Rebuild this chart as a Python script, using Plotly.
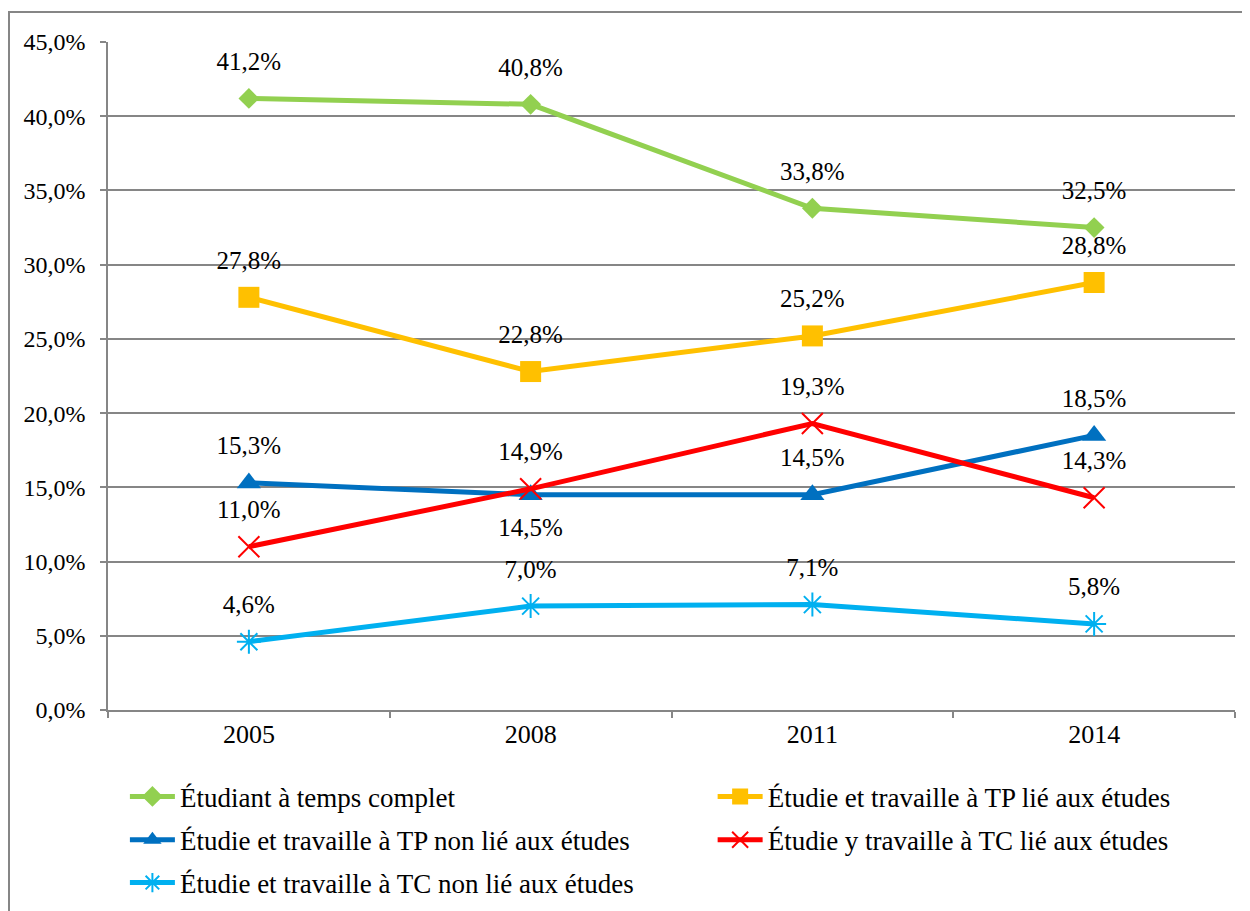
import plotly.graph_objects as go

years = ["2005", "2008", "2011", "2014"]
series_names = [
    "Étudiant à temps complet",
    "Étudie et travaille à TP lié aux études",
    "Étudie et travaille à TP non lié aux études",
    "Étudie y travaille à TC lié aux études",
    "Étudie et travaille à TC non lié aux études",
]
temps_complet = [41.2, 40.8, 33.8, 32.5]
tp_lie = [27.8, 22.8, 25.2, 28.8]
tp_non_lie = [15.3, 14.5, 14.5, 18.5]
tc_lie = [11.0, 14.9, 19.3, 14.3]
tc_non_lie = [4.6, 7.0, 7.1, 5.8]
y_ticks = [0, 5, 10, 15, 20, 25, 30, 35, 40, 45]
y_tick_labels = ["0,0%", "5,0%", "10,0%", "15,0%", "20,0%", "25,0%", "30,0%", "35,0%", "40,0%", "45,0%"]

values = [temps_complet, tp_lie, tp_non_lie, tc_lie, tc_non_lie]
colors = ["#92D050", "#FFC000", "#0070C0", "#FF0000", "#00B0F0"]
symbols = ["diamond", "square", "triangle-up", "x-thin-open", "asterisk-open"]
msizes = [16, 21, 21, 21, 20]
legend_ids = ["legend", "legend2", "legend3", "legend4", "legend5"]
legend_pos = [(0.015, -0.130), (0.5365, -0.130), (0.015, -0.195), (0.5365, -0.195), (0.015, -0.259)]
label_pos = [
    ["top center"] * 4,
    ["top center"] * 4,
    ["top center", "bottom center", "top center", "top center"],
    ["top center"] * 4,
    ["top center"] * 4,
]

FONT = "Liberation Serif, Times New Roman, serif"
fig = go.Figure()
for name, vals, col, sym, ms, lg in zip(series_names, values, colors, symbols, msizes, legend_ids):
    open_sym = sym.endswith("open")
    fig.add_trace(go.Scatter(
        x=years, y=vals, name=name, mode="lines+markers", legend=lg,
        line=dict(color=col, width=5),
        marker=dict(symbol=sym, size=ms, color=col,
                    line=dict(color=col, width=2 if open_sym else 0)),
    ))
# data labels (invisible markers set the label offset)
for vals, tpos in zip(values, label_pos):
    fig.add_trace(go.Scatter(
        x=years, y=vals, mode="markers+text", showlegend=False, hoverinfo="skip",
        text=[f"{v:.1f}".replace(".", ",") + "%" for v in vals],
        textposition=tpos,
        textfont=dict(family=FONT, size=25, color="#000000"),
        marker=dict(size=34, opacity=0),
    ))

grid_col = "#868686"
layout_legends = {}
for lg, (lx, ly) in zip(legend_ids, legend_pos):
    layout_legends[lg] = dict(orientation="v", x=lx, y=ly, xanchor="left", yanchor="middle",
                              itemwidth=45,
                              font=dict(family=FONT, size=27), bgcolor="rgba(0,0,0,0)")

L, T, W, H = 100, 34, 1127, 668
fig.update_layout(
    width=1250, height=911, showlegend=True,
    paper_bgcolor="white", plot_bgcolor="white",
    margin=dict(l=L, r=1250 - L - W, t=T, b=911 - T - H),
    font=dict(family=FONT, size=24, color="#000000"),
    xaxis=dict(
        type="category", tickson="boundaries", ticks="outside", ticklen=6,
        tickcolor=grid_col, tickwidth=1.5, showline=True, linecolor=grid_col,
        linewidth=1.5, showgrid=False, range=[-0.5, 3.5],
        tickfont=dict(family=FONT, size=26),
    ),
    yaxis=dict(
        range=[0, 45], tickmode="array", tickvals=y_ticks, ticktext=y_tick_labels,
        ticks="outside", ticklen=6, tickcolor=grid_col, tickwidth=1.5,
        ticklabelstandoff=10,
        showline=True, linecolor=grid_col, linewidth=1.5,
        showgrid=True, gridcolor=grid_col, gridwidth=1.5, zeroline=False,
        tickfont=dict(family=FONT, size=24),
    ),
    shapes=[dict(type="rect", xref="paper", yref="paper",
                 x0=(1 - L) / W, x1=(1270 - L) / W,
                 y0=1 - (930 - T) / H, y1=1 - (4 - T) / H,
                 line=dict(color=grid_col, width=2), layer="below")],
    **layout_legends,
)
fig.write_html("out.html")
